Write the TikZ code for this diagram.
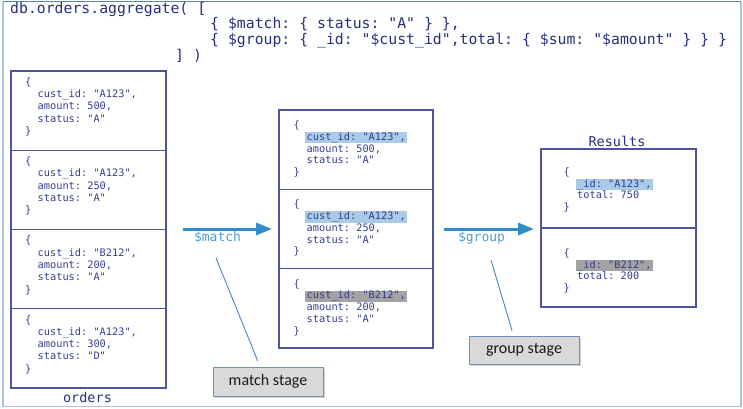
\documentclass[tikz,border=0pt]{standalone}
\usepackage{fontspec}
\setmonofont{DejaVu Sans Mono}
\newfontfamily\stagefont{Carlito}
\usetikzlibrary{arrows.meta,shadows}
\definecolor{titleblue}{RGB}{38,48,125}
\definecolor{docblue}{RGB}{52,62,140}
\definecolor{boxcol}{RGB}{78,84,158}
\definecolor{hlblue}{RGB}{168,204,232}
\definecolor{hlgray}{RGB}{163,163,163}
\definecolor{flowblue}{RGB}{50,140,200}
\definecolor{flowtext}{RGB}{75,158,214}
\definecolor{calloutcol}{RGB}{80,125,195}
\definecolor{stagefill}{RGB}{217,217,217}
\definecolor{stageedge}{RGB}{110,145,195}
\definecolor{frameedge}{RGB}{170,196,228}
\definecolor{frametop}{RGB}{90,130,195}
\tikzset{
  docline/.style={anchor=base west, inner sep=0pt, text=docblue,
    font=\ttfamily\fontsize{10.3}{12}\selectfont},
  hlb/.style={fill=hlblue, inner xsep=1.5pt, inner ysep=0.6pt, xshift=-1.5pt,
    text height=7.6pt, text depth=2.4pt},
  hlg/.style={hlb, fill=hlgray},
  nohl/.style={},
  titleline/.style={anchor=base west, inner sep=0pt, text=titleblue,
    font=\ttfamily\fontsize{14.8}{17}\selectfont},
  boxframe/.style={draw=boxcol, line width=1.1pt, inner sep=0pt, outer sep=0pt},
  cellbox/.style={inner sep=0pt, outer sep=0pt},
  divider/.style={draw=boxcol, line width=1.1pt},
  caption/.style={anchor=base, inner sep=0pt, text=titleblue,
    font=\ttfamily\fontsize{13.5}{16}\selectfont},
  flowarrow/.style={draw=flowblue, line width=3pt, -{Triangle[length=16pt,width=12pt]}},
  flowlabel/.style={anchor=base, inner sep=0pt, text=flowtext,
    font=\ttfamily\fontsize{13}{15}\selectfont},
  callout/.style={draw=calloutcol, line width=0.9pt},
  stagebox/.style={draw=stageedge, line width=1pt, fill=stagefill, inner sep=0pt,
    minimum width=110pt, font=\stagefont\fontsize{16}{19}\selectfont, text=black!90,
    drop shadow={opacity=0.35, shadow xshift=1.5pt, shadow yshift=-1.5pt}}
}
% name, x brace, x inner, y first baseline, dy, highlight style, l2, l3, l4
\newcommand\docrec[9]{%
  \node[docline] (#1-a) at (#2,#4) {\{};
  \node[docline,#6] (#1-b) at (#3,#4+#5) {#7};
  \node[docline] (#1-c) at (#3,#4+2*#5) {#8};
  \node[docline] (#1-d) at (#3,#4+3*#5) {#9};
  \node[docline] (#1-e) at (#2,#4+4*#5) {\}};
}
% name, x brace, x inner, y first baseline, dy, highlight style, l2, l3
\newcommand\resrec[8]{%
  \node[docline] (#1-a) at (#2,#4) {\{};
  \node[docline,#6] (#1-b) at (#3,#4+#5) {#7};
  \node[docline] (#1-c) at (#3,#4+2*#5) {#8};
  \node[docline] (#1-d) at (#2,#4+3*#5) {\}};
}
\begin{document}
\begin{tikzpicture}[x=1pt,y=-1pt]
\useasboundingbox (0,0) rectangle (743,408);
% outer frame
\draw[frameedge, line width=1.6pt] (2.8,1.5) -- (2.8,406.5) -- (740.8,406.5) -- (740.8,1.5);
\draw[frametop, line width=1.2pt] (2.8,1.2) -- (740.8,1.2);
% title code
\node[titleline] (t1) at (10,13) {db.orders.aggregate( [};
\node[titleline] (t2) at (210,28.8) {\{ \$match: \{ status: "A" \} \},};
\node[titleline] (t3) at (210,44.5) {\{ \$group: \{ \_id: "\$cust\_id",total: \{ \$sum: "\$amount" \} \} \}};
\node[titleline] (t4) at (175,60.2) {] )};
% orders collection
\node[boxframe, minimum width=155pt, minimum height=317pt] (ordersbox) at (88.5,229.5) {};
\node[cellbox, minimum width=155pt, minimum height=79.25pt] (o1) at (88.5,110.625) {};
\node[cellbox, minimum width=155pt, minimum height=79.25pt] (o2) at (88.5,189.875) {};
\node[cellbox, minimum width=155pt, minimum height=79.25pt] (o3) at (88.5,269.125) {};
\node[cellbox, minimum width=155pt, minimum height=79.25pt] (o4) at (88.5,348.375) {};
\draw[divider] (o1.south west) -- (o1.south east);
\draw[divider] (o2.south west) -- (o2.south east);
\draw[divider] (o3.south west) -- (o3.south east);
\docrec{d1}{25}{37.5}{85.3}{12.3}{nohl}{cust\_id: "A123",}{amount: 500,}{status: "A"}
\docrec{d2}{25}{37.5}{164.55}{12.3}{nohl}{cust\_id: "A123",}{amount: 250,}{status: "A"}
\docrec{d3}{25}{37.5}{243.8}{12.3}{nohl}{cust\_id: "B212",}{amount: 200,}{status: "A"}
\docrec{d4}{25}{37.5}{323.05}{12.3}{nohl}{cust\_id: "A123",}{amount: 300,}{status: "D"}
\node[caption] (orderslbl) at (87.5,402) {orders};
% matched documents
\node[boxframe, minimum width=154pt, minimum height=238pt] (midbox) at (356,229) {};
\node[cellbox, minimum width=154pt, minimum height=79.33pt] (m1) at (356,149.67) {};
\node[cellbox, minimum width=154pt, minimum height=79.33pt] (m2) at (356,229) {};
\draw[divider] (m1.south west) -- (m1.south east);
\draw[divider] (m2.south west) -- (m2.south east);
\docrec{e1}{293.5}{306.5}{128.5}{11.75}{hlb}{cust\_id: "A123",}{amount: 500,}{status: "A"}
\docrec{e2}{293.5}{306.5}{207.8}{11.75}{hlb}{cust\_id: "A123",}{amount: 250,}{status: "A"}
\docrec{e3}{293.5}{306.5}{287.2}{11.75}{hlg}{cust\_id: "B212",}{amount: 200,}{status: "A"}
% results
\node[boxframe, minimum width=155pt, minimum height=158pt] (resbox) at (618.5,228) {};
\node[cellbox, minimum width=155pt, minimum height=79pt] (r1) at (618.5,188.5) {};
\draw[divider] (r1.south west) -- (r1.south east);
\resrec{f1}{563.5}{577}{175.5}{11.7}{hlb}{\_id: "A123",}{total: 750}
\resrec{f2}{563.5}{577}{256.5}{11.7}{hlg}{\_id: "B212",}{total: 200}
\node[caption] (reslbl) at (617,146) {Results};
% stage arrows
\draw[flowarrow, shorten <=17pt, shorten >=7pt] (ordersbox.east |- midbox.west) -- (midbox.west);
\draw[flowarrow, shorten <=11pt, shorten >=7pt] (midbox.east) -- (midbox.east -| resbox.west);
\node[flowlabel] (matchlbl) at (217.5,241) {\$match};
\node[flowlabel] (grouplbl) at (481.5,241) {\$group};
% stage callouts
\node[stagebox, minimum height=29pt] (matchstage) at (268,381.5) {match stage};
\node[stagebox, minimum height=28pt] (groupstage) at (524,350) {group stage};
\coordinate (mtip) at (216,258);
\coordinate (gtip) at (491,260);
\draw[callout, shorten >=6pt] (mtip) -- ([xshift=-8pt]matchstage.north);
\draw[callout, shorten >=5pt] (gtip) -- ([xshift=-10.5pt]groupstage.north);
\end{tikzpicture}
\end{document}
